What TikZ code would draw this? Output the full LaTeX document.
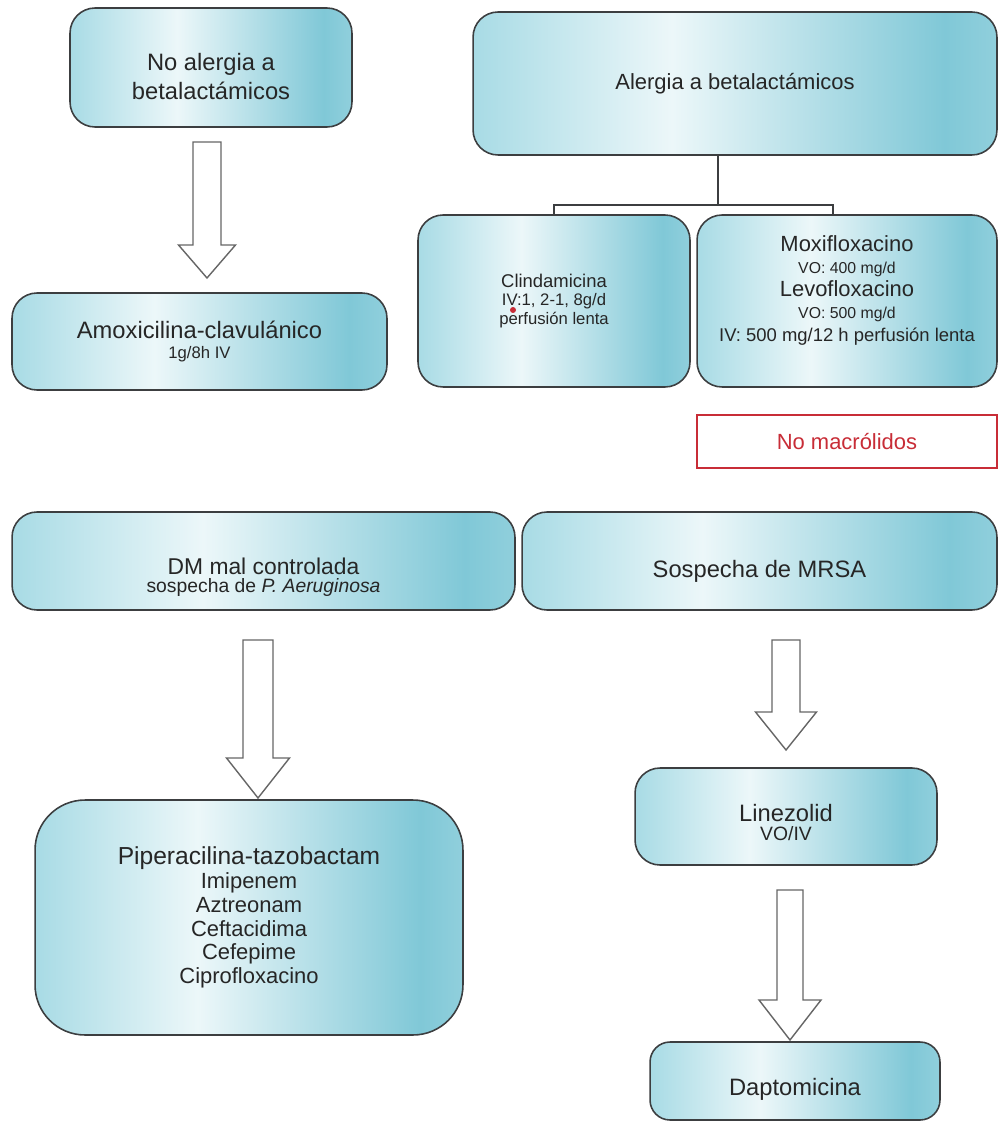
\documentclass[tikz,border=0pt]{standalone}
\usepackage{fontspec}
\setmainfont{Liberation Sans}
\usetikzlibrary{calc}
\definecolor{boxL}{RGB}{168,219,229}
\definecolor{boxM}{RGB}{236,247,249}
\definecolor{boxR}{RGB}{128,200,215}
\definecolor{edge}{RGB}{60,62,64}
\definecolor{macro}{RGB}{200,45,55}
\pgfdeclarehorizontalshading{boxshade}{100bp}{color(0bp)=(boxL); color(25bp)=(boxL); color(44bp)=(boxM); color(70bp)=(boxR); color(75bp)=(boxR!85!boxM); color(100bp)=(boxR!85!boxM)}
\newcommand{\fsz}[2]{\fontsize{#1}{#2}\selectfont}
\newcommand{\blockarrow}[5]{%
  \draw[hollow] ($(#1)+(-#3,0)$) -- ($(#2)+(-#3,-#5)$) -- ($(#2)+(-#4,-#5)$) -- (#2)
    -- ($(#2)+(#4,-#5)$) -- ($(#2)+(#3,-#5)$) -- ($(#1)+(#3,0)$) -- cycle;}

\begin{document}
\begin{tikzpicture}[x=0.02cm, y=-0.02cm,
    box/.style={draw=edge, line width=0.9pt, rounded corners=0.5cm, shade, shading=boxshade,
      align=center, text=black!85, inner sep=2pt},
    lbl/.style={align=center, text=black!85, inner sep=0pt},
    hollow/.style={draw=black!60, line width=0.8pt, fill=white, line join=miter},
    tree/.style={draw=edge, line width=0.9pt}]
  \useasboundingbox (0,0) rectangle (1000,1131);

  \node[box, minimum width=5.64cm, minimum height=2.38cm] (noal) at (211,67.5) {};
  \node[lbl, font=\fsz{13.5}{16}] (noal-t) at ([yshift=-0.18cm]noal.center) {No alergia a\\betalactámicos};
  \node[box, minimum width=10.48cm, minimum height=2.86cm, font=\fsz{12.5}{15}] (alerg) at (735,83.5) {Alergia a betalactámicos};
  \node[box, minimum width=7.5cm, minimum height=1.94cm, font=\fsz{13.5}{11.5}] (amox) at (199.5,341.5) {Amoxicilina-clavulánico\\{\fsz{9.5}{11.5}1g/8h IV}};
  \node[box, minimum width=5.44cm, minimum height=3.44cm, font=\fsz{10.5}{10.5}] (clinda) at (554,301) {Clindamicina\\{\fsz{9.5}{10.5}IV:1, 2-1, 8g/d}\\{\fsz{9.5}{10.5}perfusión lenta}};
  \node[box, minimum width=6cm, minimum height=3.44cm] (moxi) at (847,301) {};
  \node[lbl, font=\fsz{12.5}{12.8}] (moxi-t) at ([yshift=0.22cm]moxi.center) {Moxifloxacino\\{\fsz{9}{12.8}VO: 400 mg/d}\\Levofloxacino\\{\fsz{9}{12.8}VO: 500 mg/d}\\{\fsz{10.5}{12.8}IV: 500 mg/12 h perfusión lenta}};
  \node[draw=macro, line width=1.5pt, fill=white, minimum width=6cm, minimum height=1.06cm, text=macro, font=\fsz{12.5}{15}] (nomac) at (847,441.5) {No macrólidos};

  \node[box, minimum width=10.06cm, minimum height=1.96cm] (dm) at (263.5,561) {};
  \node[lbl, font=\fsz{13}{10.5}] (dm-t) at ([yshift=-0.32cm]dm.center) {DM mal controlada\\{\fsz{11}{10.5}sospecha de \textit{P. Aeruginosa}}};
  \node[box, minimum width=9.5cm, minimum height=1.96cm] (mrsa) at (759.5,561) {};
  \node[lbl, font=\fsz{13.5}{15}] (mrsa-t) at ([yshift=-0.2cm]mrsa.center) {Sospecha de MRSA};
  \node[box, rounded corners=1cm, minimum width=8.56cm, minimum height=4.7cm, font=\fsz{12.5}{13.6}] (pipe) at (249,917.5) {{\fsz{14}{13.6}Piperacilina-tazobactam}\\Imipenem\\Aztreonam\\Ceftacidima\\Cefepime\\Ciprofloxacino};
  \node[box, minimum width=6.04cm, minimum height=1.94cm] (linez) at (786,816.5) {};
  \node[lbl, font=\fsz{13.5}{11}] (linez-t) at ([yshift=-0.12cm]linez.center) {Linezolid\\{\fsz{11}{11}VO/IV}};
  \node[box, rounded corners=0.4cm, minimum width=5.8cm, minimum height=1.56cm] (dapto) at (795,1081) {};
  \node[lbl, font=\fsz{13.5}{15}] (dapto-t) at ([yshift=-0.16cm]dapto.center) {Daptomicina};

  \fill[macro] (513,310) circle (0.06cm);

  \coordinate (split) at (718,205);
  \draw[tree] (split |- alerg.south) -- (split);
  \draw[tree] (clinda.north) |- (split) -| ([xshift=-0.28cm]moxi.north);

  \coordinate (a1top) at (207,142);
  \coordinate (a1tip) at (207,278);
  \coordinate (a2top) at (258,640);
  \coordinate (a2tip) at (258,798);
  \coordinate (a3top) at (786,640);
  \coordinate (a3tip) at (786,750);
  \coordinate (a4top) at (790,890);
  \coordinate (a4tip) at (790,1040);
  \blockarrow{a1top}{a1tip}{14}{28.5}{33}
  \blockarrow{a2top}{a2tip}{15}{31.5}{40}
  \blockarrow{a3top}{a3tip}{14}{30.5}{38}
  \blockarrow{a4top}{a4tip}{13}{31}{40}
\end{tikzpicture}
\end{document}
